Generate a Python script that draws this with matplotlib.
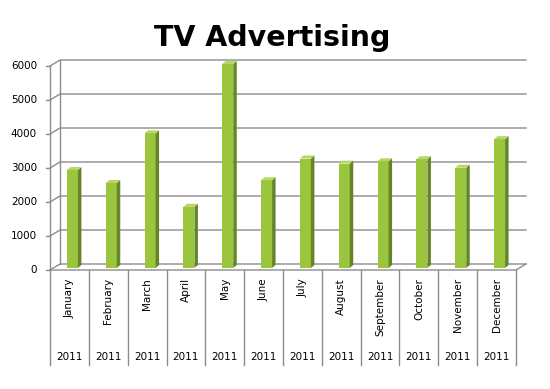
import numpy as np
import matplotlib.pyplot as plt
from matplotlib.patches import Polygon

# data
months = ["January", "February", "March", "April", "May", "June",
          "July", "August", "September", "October", "November", "December"]
years = ["2011"] * 12
spend = [2880, 2500, 3960, 1800, 6000, 2580, 3220, 3070, 3140, 3200, 2950, 3790]
yticks = [0, 1000, 2000, 3000, 4000, 5000, 6000]

W, H = 550, 389
fig = plt.figure(figsize=(W / 100, H / 100), dpi=100)

# front axis: x 50..516 px, y value 0 at 270 px, 6000 at 66 px
x0, x1 = 50, 516
yb, yt = 270, 66
ax = fig.add_axes([x0 / W, 1 - yb / H, (x1 - x0) / W, (yb - yt) / H])
ax.set_xlim(0, 12)
ax.set_ylim(0, 6000)
ax.axis("off")

n = len(months)
px_x = 12 / (x1 - x0)        # data units per px
px_y = 6000 / (yb - yt)

# depth of the box (back wall offset)
ddx, ddy = 10 * px_x, 6 * px_y
grid_c = "#8c8c8c"

for v in yticks:
    ax.plot([0, ddx, 12 + ddx], [v, v + ddy, v + ddy], color=grid_c, lw=1,
            clip_on=False, zorder=1)
    ax.plot([-4 * px_x, 0], [v, v], color=grid_c, lw=1, clip_on=False)
    ax.text(-13 * px_x, v, str(v), ha="right", va="center", fontsize=7.5,
            family="DejaVu Sans")
ax.plot([ddx, ddx], [ddy, 6000 + ddy], color=grid_c, lw=1, clip_on=False, zorder=1)
ax.plot([0, 0], [0, 6000], color=grid_c, lw=1, clip_on=False, zorder=4)
ax.plot([0, 12, 12 + ddx], [0, 0, ddy], color=grid_c, lw=1, clip_on=False, zorder=4)

# bars, placed about a third into the depth
bw = 11 * px_x
sx, sy = 3.5 * px_x, 3 * px_y
off_x, off_y = 3 * px_x, 2 * px_y
front_c, side_c, top_c = "#9bc53d", "#65852a", "#b5d763"
for i, v in enumerate(spend):
    left = i + 0.5 - bw / 2 + off_x
    ax.bar(left, v, width=bw, bottom=off_y, align="edge", color=front_c,
           edgecolor="none", zorder=3, clip_on=False)
    ax.add_patch(Polygon([[left + bw, off_y], [left + bw + sx, off_y + sy],
                          [left + bw + sx, v + off_y + sy], [left + bw, v + off_y]],
                         closed=True, color=side_c, lw=0, zorder=3, clip_on=False))
    ax.add_patch(Polygon([[left, v + off_y], [left + bw, v + off_y],
                          [left + bw + sx, v + off_y + sy], [left + sx, v + off_y + sy]],
                         closed=True, color=top_c, lw=0, zorder=3, clip_on=False))

# category table below the axis
tab_bottom = -(365 - yb) * px_y
for i in range(n + 1):
    ax.plot([i, i], [0, tab_bottom], color=grid_c, lw=1, clip_on=False)
for i in range(n):
    ax.text(i + 0.5, -(278 - yb) * px_y, months[i], rotation=90, ha="center",
            va="top", fontsize=7.5, family="DejaVu Sans")
    ax.text(i + 0.5, -(357 - yb) * px_y, years[i], ha="center", va="center",
            fontsize=7.5, family="DejaVu Sans")

fig.text(272 / W, 1 - 38 / H, "TV Advertising", ha="center", va="center",
         fontsize=20.5, fontweight="bold", family="DejaVu Sans")

fig.savefig("out.png", dpi=100)
